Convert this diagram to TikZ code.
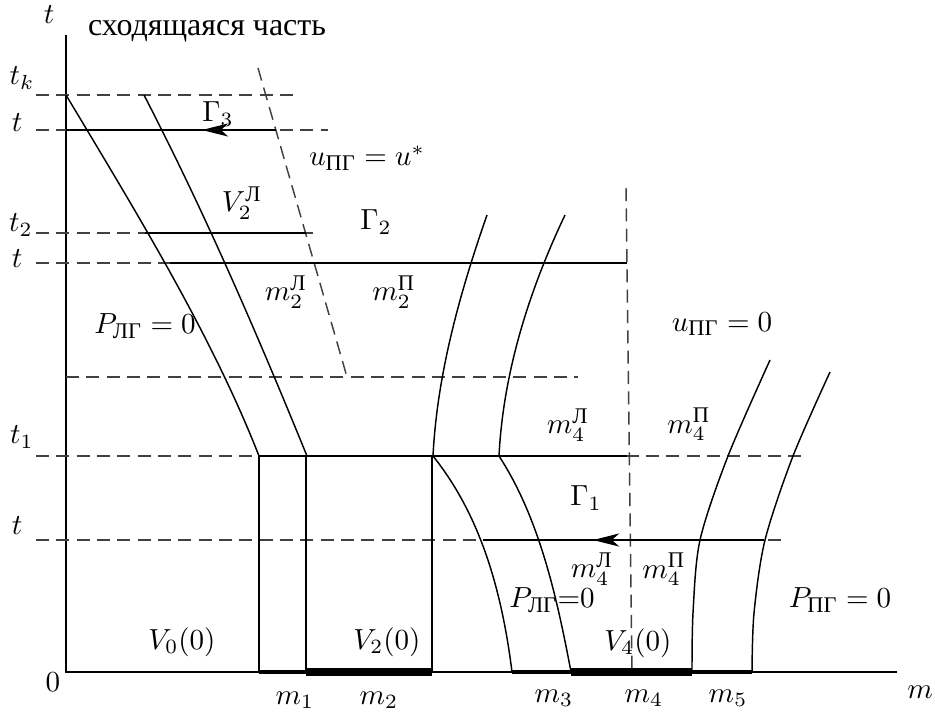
\documentclass[tikz,border=0pt]{standalone}
\usepackage{fontspec}
\usepackage{amsmath}
\newfontfamily\ruserif[Scale=1.1]{Liberation Serif}
\newcommand{\cy}[1]{\text{\ruserif #1}}
\usetikzlibrary{arrows.meta}

\begin{document}
\begin{tikzpicture}[
  x=0.0121cm, y=-0.0121cm,
  axis/.style={line width=0.5pt},
  guide/.style={
    dash pattern=on 4.5pt off 2.5pt, line width=0.5pt, color=black!75
  },
  front/.style={line width=0.5pt},
  flow/.style={
    line width=0.5pt, -{Stealth[length=9pt, width=4.5pt, inset=2.5pt]}
  },
  midseg/.style={line width=1.2pt},
  heavyseg/.style={line width=2.7pt},
  lbl/.style={inner sep=0pt}
]
\useasboundingbox (0,0) rectangle (935,717);

% Axes
\coordinate (O)    at (66,672);
\coordinate (ttop) at (66,35);
\coordinate (mend) at (897,672);
\draw[axis] (ttop) -- (O) -- (mend);

% Time levels
\draw[guide] (36,95)  -- (300,95);
\draw[guide] (36,130) -- (328,130);
\draw[guide] (36,233) -- (320,233);
\draw[guide] (36,263) -- (172,263);
\draw[guide] (66,377) -- (578,377);
\draw[guide] (36,456) -- (805,456);
\draw[guide] (36,540) -- (783,540);

% Characteristics and interfaces
\draw[guide] (258,68)  -- (347,377);
\draw[guide] (626,188) -- (632,672);

% Solid levels with transit arrows
\draw[front] (66,130)  -- (276,130);
\draw[flow]  (230,130) -- (202,130);
\draw[front] (145,233) -- (306,233);
\draw[front] (170,263) -- (627,263);
\draw[front] (259,456) -- (627,456);
\draw[front] (483,540) -- (764,540);
\draw[flow]  (622,540) -- (593,540);

% Boundaries of the layers
\draw[front] (66,95)   .. controls (138,215) and (212,336) .. (259,456);
\draw[front] (144,95)  .. controls (206,215) and (258,336) .. (307,456);
\draw[front] (433,456) .. controls (437,376) and (459,295) .. (487,215);
\draw[front] (499,456) .. controls (503,376) and (527,295) .. (565,215);
\draw[front] (433,456) .. controls (481,516) and (502,592) .. (512,672);
\draw[front] (499,456) .. controls (538,516) and (556,592) .. (571,672);
\draw[front] plot[smooth] coordinates {(692,672) (693,613) (700,540) (728,456) (770,360)};
\draw[front] plot[smooth] coordinates {(752,672) (754,613) (765,540) (793,456) (830,372)};

% Initial layers
\draw[front] (259,456) -- (259,672);
\draw[front] (306,456) -- (306,672);
\draw[front] (432,456) -- (432,672);
\draw[midseg]   (259,672) -- (306,672);
\draw[heavyseg] (306,672) -- (432,672);
\draw[midseg]   (512,672) -- (571,672);
\draw[heavyseg] (571,672) -- (692,672);
\draw[midseg]   (692,672) -- (752,672);

% Axis labels
\node[lbl] (tlab)  at (49,15)  {$t$};
\node[lbl, anchor=base] (title) at (207,35) {\ruserif сходящаяся часть};
\node[lbl] (tk)    at (22,78)  {$t_k$};
\node[lbl] (ta)    at (17,123) {$t$};
\node[lbl] (t2)    at (21,225) {$t_2$};
\node[lbl] (tb)    at (17,259) {$t$};
\node[lbl] (t1)    at (22,437) {$t_1$};
\node[lbl] (tc)    at (17,526) {$t$};
\node[lbl] (zero)  at (53,682) {$0$};
\node[lbl] (m1)    at (295,700) {$m_1$};
\node[lbl] (m2)    at (379,700) {$m_2$};
\node[lbl] (m3)    at (554,698) {$m_3$};
\node[lbl] (m4)    at (644,698) {$m_4$};
\node[lbl] (m5)    at (728,698) {$m_5$};
\node[lbl] (mlab)  at (920,692) {$m$};

% Region labels
\node[lbl] (G3)    at (218,114) {$\Gamma_3$};
\node[lbl] (ustar) at (367,158) {$u_{\cy{ПГ}} = u^*$};
\node[lbl] (V2L)   at (242,203) {$V_2^{\cy{Л}}$};
\node[lbl] (G2)    at (376,222) {$\Gamma_2$};
\node[lbl] (m2L)   at (286,292) {$m_2^{\cy{Л}}$};
\node[lbl] (m2P)   at (394,292) {$m_2^{\cy{П}}$};
\node[lbl] (PLa)   at (145,326) {$P_{\cy{ЛГ}} = 0$};
\node[lbl] (uzero) at (722,324) {$u_{\cy{ПГ}} = 0$};
\node[lbl] (m4La)  at (568,425) {$m_4^{\cy{Л}}$};
\node[lbl] (m4Pa)  at (689,424) {$m_4^{\cy{П}}$};
\node[lbl] (G1)    at (586,498) {$\Gamma_1$};
\node[lbl] (m4Lb)  at (592,569) {$m_4^{\cy{Л}}$};
\node[lbl] (m4Pb)  at (664,569) {$m_4^{\cy{П}}$};
\node[lbl] (PLb)   at (552,600) {$P_{\cy{ЛГ}}{=}0$};
\node[lbl] (PP)    at (840,600) {$P_{\cy{ПГ}} = 0$};
\node[lbl] (V0)    at (182,642) {$V_0(0)$};
\node[lbl] (V2)    at (387,642) {$V_2(0)$};
\node[lbl] (V4)    at (638,643) {$V_4(0)$};

\end{tikzpicture}
\end{document}
